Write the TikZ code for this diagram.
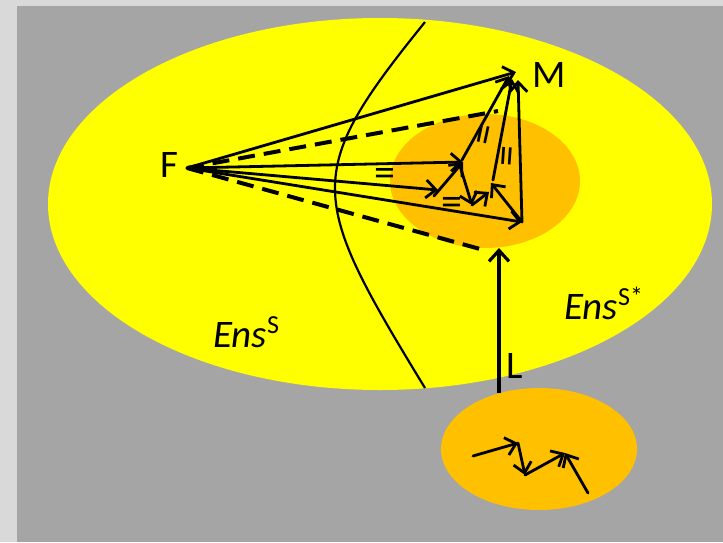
\documentclass[tikz,border=0pt]{standalone}
\usepackage{fontspec}
\setmainfont{Carlito}
\usetikzlibrary{arrows.meta}
\definecolor{bgout}{HTML}{D9D9D9}
\definecolor{bgin}{HTML}{A5A5A5}
\definecolor{yel}{HTML}{FFFF00}
\definecolor{org}{HTML}{FFC000}
\begin{document}
\begin{tikzpicture}[x=1pt,y=-1pt,
  vec/.style={line width=2.8pt,line cap=round,-{Straight Barb[length=10pt,width=18pt]}},
  dash line/.style={line width=4pt,dash pattern=on 17pt off 9pt},
  lbl/.style={inner sep=0pt,anchor=base west,font=\fontsize{39}{39}\selectfont},
  eq/.style={inner sep=0pt,font=\fontsize{42}{42}\selectfont}]
\useasboundingbox (0,0) rectangle (723,542);
\fill[bgout] (0,0) rectangle (723,542);
\fill[bgin] (17,6) rectangle (723,542);
% regions
\fill[yel] (380,204) ellipse [x radius=332, y radius=186];
\fill[org] (485,181) ellipse [x radius=95, y radius=67];
\fill[org] (539,449) ellipse [x radius=98, y radius=61];
% boundary curve
\coordinate (ct) at (425,22);
\coordinate (cb) at (425,388);
\draw[line width=2.2pt] (ct) .. controls (302,174) and (308,196) .. (cb);
% points
\coordinate (F) at (187,168);
\coordinate (m1) at (516,72);
\coordinate (m2) at (509,76);
\coordinate (m3) at (512,79);
\coordinate (m4) at (518,80);
\coordinate (du) at (498,111);
\coordinate (dl) at (480,249);
\coordinate (A) at (438,190);
\coordinate (A0) at (434,196);
\coordinate (B) at (463,162);
\coordinate (B0) at (462,160);
\coordinate (B1) at (460,166);
\coordinate (C) at (472,205);
\coordinate (D) at (491,183);
\coordinate (D0) at (493,180);
\coordinate (D2) at (489,192);
\coordinate (E) at (522,222);
% dashed tangents
\draw[dash line] (F) -- (du);
\draw[dash line] (F) -- (dl);
% vectors from F
\draw[vec] (F) -- (m1);
\draw[vec] (F) -- (B);
\draw[vec] (F) -- (A);
\draw[vec] (F) -- (E);
% inner vectors
\draw[vec] (A0) -- (B);
\draw[vec] (B0) -- (m2);
\draw[vec] (B1) -- (C);
\draw[vec] (C) -- (D2);
\draw[vec] (E) -- (D);
\draw[vec] (D0) -- (m3);
\draw[vec] (E) -- (m4);
% equality marks
\node[eq] (q1) at (385,177) {=};
\node[eq] (q2) at (452,206) {=};
\node[eq,rotate=78] (q3) at (488,135) {=};
\node[eq,rotate=86] (q4) at (511,156) {=};
% L arrow
\coordinate (Lb) at (499,393);
\coordinate (Lt) at (499,248);
\draw[line width=3.2pt,-{Straight Barb[length=11pt,width=20pt]}] (Lb) -- (Lt);
% bottom vectors
\coordinate (p1) at (473,456);
\coordinate (p2) at (518,443);
\coordinate (p3) at (525,475);
\coordinate (p4) at (565,453);
\coordinate (p5) at (588,493);
\draw[vec] (p1) -- (p2);
\draw[vec] (p2) -- (p3);
\draw[vec] (p3) -- (p4);
\draw[vec] (p5) -- (p4);
% labels
\node[lbl] (lF) at (160,177) {F};
\node[lbl] (lM) at (532,87) {M};
\node[lbl] (lL) at (506,378) {L};
\node[lbl] (lS) at (213,347) {\itshape Ens\upshape\raisebox{14pt}{\fontsize{26}{26}\selectfont S}};
\node[lbl] (lS2) at (564,319) {\itshape Ens\upshape\raisebox{14pt}{\fontsize{26}{26}\selectfont S*}};
\end{tikzpicture}
\end{document}
